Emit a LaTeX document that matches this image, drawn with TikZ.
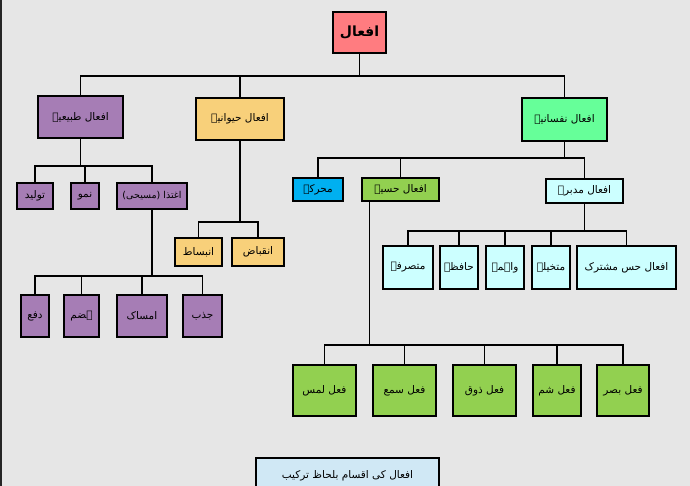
\documentclass[tikz,border=0pt]{standalone}
\usepackage{fontspec}
\usepackage{tikz}
\usetikzlibrary{positioning}
\TeXXeTstate=1
\newfontfamily\arabicfont[Script=Arabic]{DejaVu Sans}
\newcommand{\ur}[1]{{\arabicfont\beginR #1\endR}}
\definecolor{bgray}{HTML}{E6E6E6}
\definecolor{rootred}{HTML}{FF7C80}
\definecolor{tabpurple}{HTML}{A67DB5}
\definecolor{hayyellow}{HTML}{F8D07A}
\definecolor{nafgreen}{HTML}{66FF99}
\definecolor{harblue}{HTML}{00B0F0}
\definecolor{hislime}{HTML}{92D050}
\definecolor{mudcyan}{HTML}{CCFFFF}
\definecolor{noteblue}{HTML}{D0E8F5}

\begin{document}
\begin{tikzpicture}[x=1pt,y=-1pt,
    box/.style={rectangle, draw=black, line width=2pt, inner sep=1pt, font=\fontsize{10.5}{12}\selectfont},
    link/.style={line width=1.6pt}]
   \useasboundingbox (0,0) rectangle (690,486);
   \clip (0,0) rectangle (690,486);
   \fill[bgray] (0,0) rectangle (690,486);
   \fill[black!85] (0,0) rectangle (2,486);
   % top levels
   \draw (359.5,32.5) node[box, fill=rootred, minimum width=53, minimum height=41, font=\fontsize{14}{15}\selectfont\bfseries] (root) {\ur{افعال}};
   \draw (80.5,117) node[box, fill=tabpurple, minimum width=85, minimum height=42] (tabiya) {\ur{افعال طبیعیہ}};
   \draw (240,119) node[box, fill=hayyellow, minimum width=88, minimum height=42] (haywani) {\ur{افعال حیوانیہ}};
   \draw (564.5,119.5) node[box, fill=nafgreen, minimum width=85, minimum height=43] (nafsani) {\ur{افعال نفسانیہ}};
   \draw (318,189.5) node[box, fill=harblue, minimum width=50, minimum height=23] (muharrika) {\ur{محرکہ}};
   \draw (400.5,189.5) node[box, fill=hislime, minimum width=77, minimum height=23] (hasiya) {\ur{افعال حسیہ}};
   \draw (584.5,191) node[box, fill=mudcyan, minimum width=77, minimum height=24] (mudabbira) {\ur{افعال مدبرہ}};
   % tabiya
   \draw (35,196) node[box, fill=tabpurple, minimum width=36, minimum height=26] (tawlid) {\ur{تولید}};
   \draw (85,196) node[box, fill=tabpurple, minimum width=28, minimum height=26] (numu) {\ur{نمو}};
   \draw (152,196) node[box, fill=tabpurple, minimum width=70, minimum height=26, font=\fontsize{9.5}{11}\selectfont] (ightidha) {\ur{اغتذا (مسیحی)}};
   \draw (35,316) node[box, fill=tabpurple, minimum width=28, minimum height=42] (dafa) {\ur{دفع}};
   \draw (81.5,316) node[box, fill=tabpurple, minimum width=35, minimum height=42] (hazm) {\ur{ہضم}};
   \draw (142,316) node[box, fill=tabpurple, minimum width=50, minimum height=42] (imsak) {\ur{امساک}};
   \draw (202.5,316) node[box, fill=tabpurple, minimum width=39, minimum height=42] (jazb) {\ur{جذب}};
   % haywani
   \draw (198.5,252) node[box, fill=hayyellow, minimum width=47, minimum height=28] (inbisat) {\ur{انبساط}};
   \draw (258,252) node[box, fill=hayyellow, minimum width=52, minimum height=28] (inqibaz) {\ur{انقباض}};
   % mudabbira
   \draw (408,267.5) node[box, fill=mudcyan, minimum width=50, minimum height=43] (mutasarrifa) {\ur{متصرفہ}};
   \draw (459,267.5) node[box, fill=mudcyan, minimum width=38, minimum height=43] (hafiza) {\ur{حافظہ}};
   \draw (505,267.5) node[box, fill=mudcyan, minimum width=38, minimum height=43] (wahima) {\ur{واہمہ}};
   \draw (551,267.5) node[box, fill=mudcyan, minimum width=38, minimum height=43] (mutakhayyila) {\ur{متخیلہ}};
   \draw (626.5,267.5) node[box, fill=mudcyan, minimum width=99, minimum height=43] (mushtarik) {\ur{افعال حس مشترک}};
   % hasiya
   \draw (324.5,390.5) node[box, fill=hislime, minimum width=63, minimum height=51] (lams) {\ur{فعل لمس}};
   \draw (404.5,390.5) node[box, fill=hislime, minimum width=63, minimum height=51] (sama) {\ur{فعل سمع}};
   \draw (484.5,390.5) node[box, fill=hislime, minimum width=63, minimum height=51] (zauq) {\ur{فعل ذوق}};
   \draw (557,390.5) node[box, fill=hislime, minimum width=48, minimum height=51] (shamm) {\ur{فعل شم}};
   \draw (623,390.5) node[box, fill=hislime, minimum width=52, minimum height=51] (basar) {\ur{فعل بصر}};
   % note
   \draw (347.5,490) node[box, fill=noteblue, minimum width=183, minimum height=64] (note) {};
   \node[font=\fontsize{10.5}{12}\selectfont] (notetext) at (347.5,476) {\ur{افعال کی اقسام بلحاظ ترکیب}};
   % connectors
   \coordinate (bus0) at (0,76);
   \coordinate (bus1) at (0,166);
   \coordinate (bus2) at (0,276);
   \coordinate (bus3) at (0,222);
   \coordinate (bus4) at (0,158);
   \coordinate (bus5) at (0,231);
   \coordinate (bus6) at (0,345);
   \foreach \c in {tabiya,haywani,nafsani} \draw[link] (\c.north) -- (\c.north |- bus0) -| (root.south);
   \foreach \c in {tawlid,numu,ightidha} \draw[link] (\c.north) -- (\c.north |- bus1) -| (tabiya.south);
   \foreach \c in {dafa,hazm,imsak,jazb} \draw[link] (\c.north) -- (\c.north |- bus2) -| (ightidha.south);
   \foreach \c in {inbisat,inqibaz} \draw[link] (\c.north) -- (\c.north |- bus3) -| (haywani.south);
   \foreach \c in {muharrika,hasiya,mudabbira} \draw[link] (\c.north) -- (\c.north |- bus4) -| (nafsani.south);
   \foreach \c in {mutasarrifa,hafiza,wahima,mutakhayyila,mushtarik} \draw[link] (\c.north) -- (\c.north |- bus5) -| (mudabbira.south);
   \foreach \c in {lams,sama,zauq,shamm,basar} \draw[link] (\c.north) -- (\c.north |- bus6) -| ([xshift=-31pt]hasiya.south);
  \end{tikzpicture}
\end{document}
